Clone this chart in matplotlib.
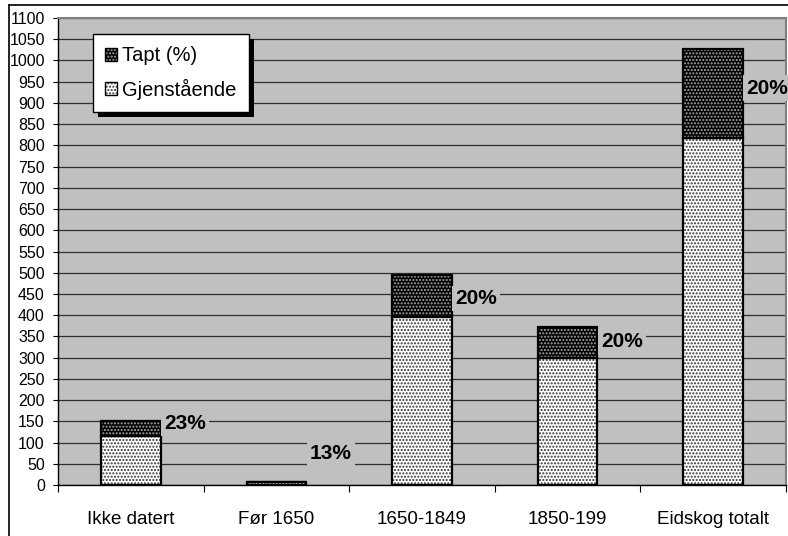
import numpy as np
import matplotlib
matplotlib.use("Agg")
import matplotlib.pyplot as plt
from matplotlib.patches import Patch, Rectangle

plt.rcParams['font.family'] = ['Liberation Sans', 'DejaVu Sans']

# values
categories = ['Ikke datert', 'Før 1650', '1650-1849', '1850-199', 'Eidskog totalt']
remaining = [116, 7, 395, 300, 818]   # Gjenstående
lost = [35, 1, 100, 73, 209]          # Tapt
pct_labels = ['23%', '13%', '20%', '20%', '20%']
label_y = [146, 75, 440, 337, 935]    # where the % labels sit (data units)

fig = plt.figure(figsize=(7.88, 5.36), dpi=100)
fig.patch.set_facecolor('white')
ax = fig.add_axes([58 / 788, 51 / 536, 728 / 788, 467 / 536])
ax.set_facecolor('#c0c0c0')

x = np.arange(len(categories))
w = 0.41
bottom_ = np.array(remaining)

# light dotted part
ax.bar(x, remaining, w, color='white', edgecolor='#333333', hatch='.....', linewidth=0, zorder=3)
# dark dotted part
ax.bar(x, lost, w, bottom=bottom_, color='black', edgecolor='#aaaaaa', hatch='.....', linewidth=0, zorder=3)
# outlines
ax.bar(x, remaining, w, fill=False, edgecolor='black', linewidth=1.6, zorder=4)
ax.bar(x, lost, w, bottom=bottom_, fill=False, edgecolor='black', linewidth=1.6, zorder=4)

for i, (txt, yy) in enumerate(zip(pct_labels, label_y)):
    ax.annotate(txt, xy=(x[i] + w / 2, yy), xytext=(2.5, 0), textcoords='offset points',
                ha='left', va='center', fontsize=15, fontweight='bold', zorder=5,
                bbox=dict(boxstyle='square,pad=0.15', facecolor='#c0c0c0', edgecolor='none'))

ax.set_ylim(0, 1100)
ax.set_xlim(-0.5, len(categories) - 0.5)
ax.set_yticks(np.arange(0, 1101, 50))
ax.yaxis.grid(True, color='#303030', linewidth=0.9, zorder=1)
ax.set_axisbelow(True)
ax.tick_params(axis='y', labelsize=11.5, length=3.5, width=0.8, pad=6)

ax.set_xticks(x)
ax.set_xticklabels(categories, fontsize=13.5)
ax.set_xticks(np.arange(-0.5, len(categories)), minor=True)
ax.tick_params(axis='x', which='major', length=0, pad=19)
ax.tick_params(axis='x', which='minor', length=5, width=0.8)

for s in ['left', 'bottom']:
    ax.spines[s].set_color('black')
    ax.spines[s].set_linewidth(1.0)
for s in ['top', 'right']:
    ax.spines[s].set_color('#808080')
    ax.spines[s].set_linewidth(1.5)

h_lost = (Patch(facecolor='black', edgecolor='#aaaaaa', hatch='.....', linewidth=0),
          Patch(fill=False, edgecolor='black', linewidth=1))
h_rem = (Patch(facecolor='white', edgecolor='#333333', hatch='.....', linewidth=0),
         Patch(fill=False, edgecolor='black', linewidth=1))
leg = ax.legend([h_lost, h_rem], ['Tapt (%)', 'Gjenstående'], loc='upper left',
                bbox_to_anchor=(0.048, 0.965), fontsize=14.5, fancybox=False,
                frameon=True, edgecolor='black', framealpha=1, handlelength=0.6,
                handleheight=0.6, handletextpad=0.25, labelspacing=0.65,
                borderpad=0.6, borderaxespad=0)
leg.get_frame().set_linewidth(1.0)
leg.set_zorder(10)

# drop shadow behind the legend
fig.canvas.draw()
bb = leg.get_window_extent()
shadow = Rectangle((bb.x0 + 5, bb.y0 - 5), bb.width, bb.height, transform=None,
                   facecolor='black', edgecolor='none', zorder=9)
ax.add_artist(shadow)

# chart border (left and top visible)
fig.add_artist(plt.Line2D([9 / 788, 9 / 788], [0, 1 - 5 / 536], color='black', linewidth=1.2))
fig.add_artist(plt.Line2D([9 / 788, 1], [1 - 5 / 536, 1 - 5 / 536], color='black', linewidth=1.2))

fig.savefig('out.png', dpi=100)
